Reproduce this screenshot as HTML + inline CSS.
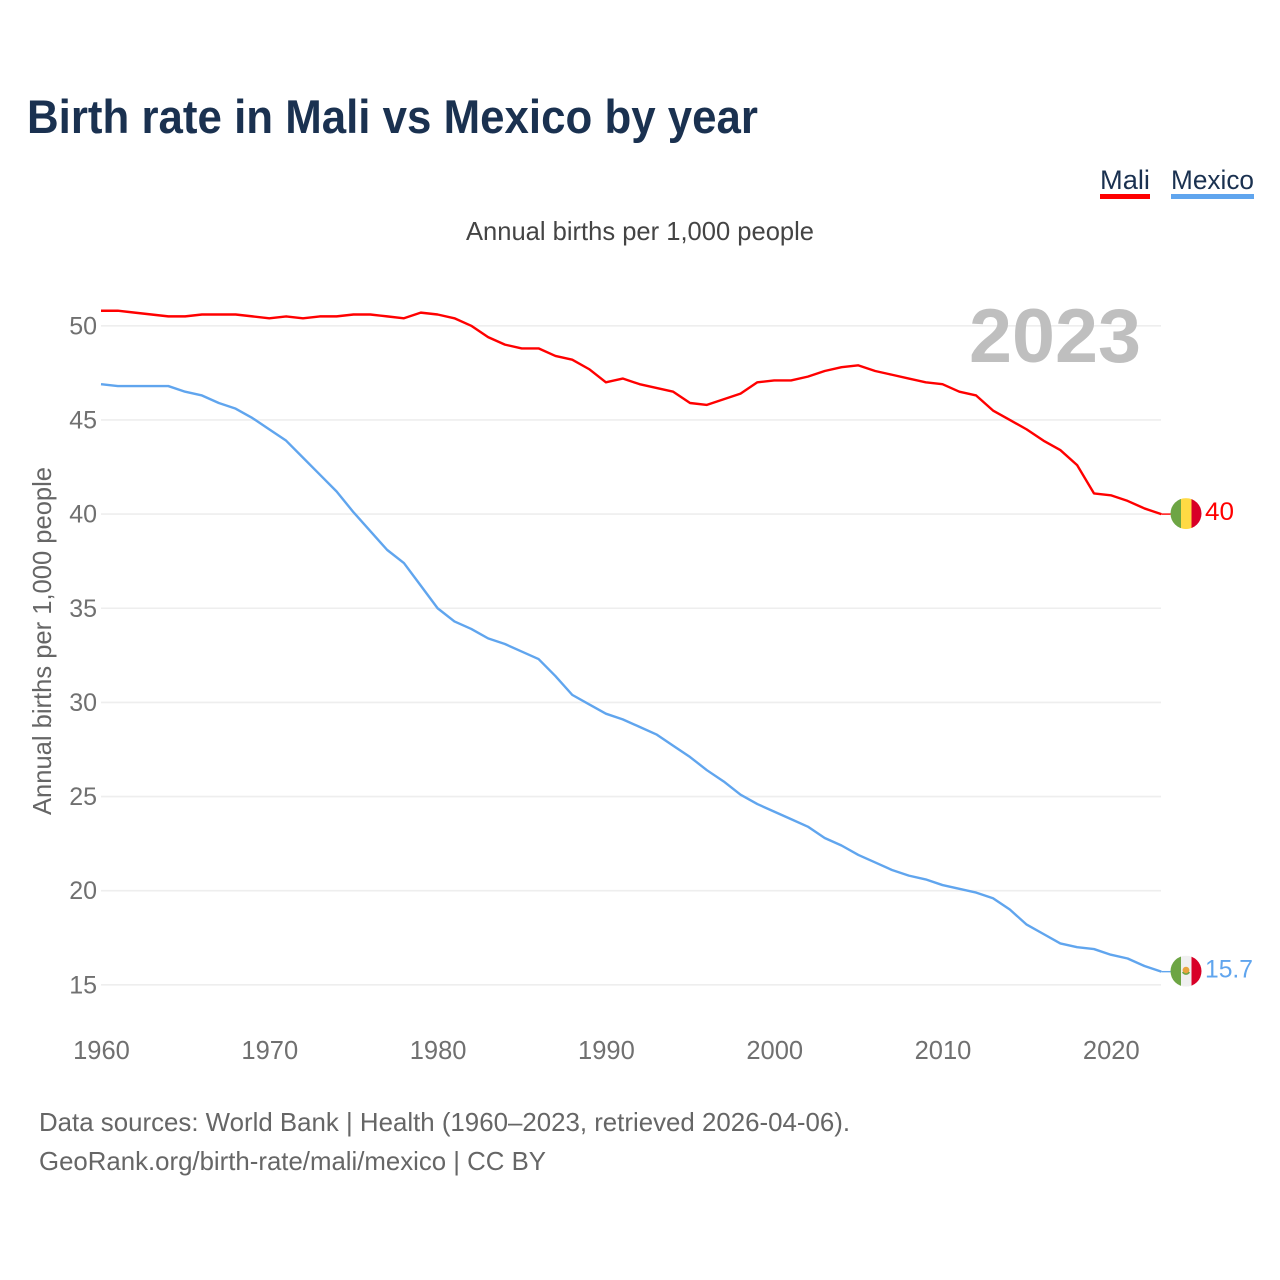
<!DOCTYPE html>
<html lang="en">
<head>
<meta charset="utf-8">
<title>Birth rate in Mali vs Mexico by year</title>
<style>
html,body{margin:0;padding:0;background:#fff;}
svg{display:block;font-family:"Liberation Sans",sans-serif;}
</style>
</head>
<body>
<svg id="chart" width="1280" height="1280" viewBox="0 0 1280 1280" xmlns="http://www.w3.org/2000/svg">
  <rect x="0" y="0" width="1280" height="1280" fill="#ffffff"/>
  <text x="27" y="133" font-size="47" font-weight="700" fill="#1a3150" textLength="731" lengthAdjust="spacingAndGlyphs">Birth rate in Mali vs Mexico by year</text>

  <g>
    <g>
      <text x="1100" y="189" font-size="27" fill="#1a3150" textLength="50" lengthAdjust="spacingAndGlyphs">Mali</text>
      <rect x="1100" y="194" width="50" height="5" fill="#ff0000"/>
    </g>
    <g>
      <text x="1171" y="189" font-size="27" fill="#1a3150" textLength="83" lengthAdjust="spacingAndGlyphs">Mexico</text>
      <rect x="1171" y="194" width="83" height="5" fill="#60a5ee"/>
    </g>
  </g>

  <text x="466" y="240" font-size="26" fill="#444444" textLength="348" lengthAdjust="spacingAndGlyphs">Annual births per 1,000 people</text>
  <text transform="translate(51,815) rotate(-90)" x="0" y="0" font-size="26" fill="#666666" textLength="348" lengthAdjust="spacingAndGlyphs">Annual births per 1,000 people</text>

  <g id="grid"></g>
  <g id="yticks"></g>
  <g id="xticks"></g>

  <text x="969" y="362" font-size="76" font-weight="700" fill="#bfbfbf" textLength="172" lengthAdjust="spacingAndGlyphs">2023</text>

  <path id="line-mexico" fill="none" stroke="#60a5ee" stroke-width="2.4" stroke-linejoin="round"/>
  <path id="line-mali" fill="none" stroke="#ff0000" stroke-width="2.4" stroke-linejoin="round"/>

  <g id="end-mali"></g>
  <g id="end-mexico"></g>

  <text x="39" y="1131" font-size="26" fill="#666666" textLength="811" lengthAdjust="spacingAndGlyphs">Data sources: World Bank | Health (1960–2023, retrieved 2026-04-06).</text>
  <text x="39" y="1170" font-size="26" fill="#666666" textLength="507" lengthAdjust="spacingAndGlyphs">GeoRank.org/birth-rate/mali/mexico | CC BY</text>
</svg>
<script>
const startYear = 1960;
const maliValues = [50.8,50.8,50.7,50.6,50.5,50.5,50.6,50.6,50.6,50.5,50.4,50.5,50.4,50.5,50.5,50.6,50.6,50.5,50.4,50.7,50.6,50.4,50.0,49.4,49.0,48.8,48.8,48.4,48.2,47.7,47.0,47.2,46.9,46.7,46.5,45.9,45.8,46.1,46.4,47.0,47.1,47.1,47.3,47.6,47.8,47.9,47.6,47.4,47.2,47.0,46.9,46.5,46.3,45.5,45.0,44.5,43.9,43.4,42.6,41.1,41.0,40.7,40.3,40.0];
const mexicoValues = [46.9,46.8,46.8,46.8,46.8,46.5,46.3,45.9,45.6,45.1,44.5,43.9,43.0,42.1,41.2,40.1,39.1,38.1,37.4,36.2,35.0,34.3,33.9,33.4,33.1,32.7,32.3,31.4,30.4,29.9,29.4,29.1,28.7,28.3,27.7,27.1,26.4,25.8,25.1,24.6,24.2,23.8,23.4,22.8,22.4,21.9,21.5,21.1,20.8,20.6,20.3,20.1,19.9,19.6,19.0,18.2,17.7,17.2,17.0,16.9,16.6,16.4,16.0,15.7];
const yTickValues = [15,20,25,30,35,40,45,50];
const xTickValues = [1960,1970,1980,1990,2000,2010,2020];

const NS = 'http://www.w3.org/2000/svg';
function xScale(year){ return 101 + (year - 1960) * 16.83; }
function yScale(v){ return 325.8 + (50 - v) * 18.83; }
function make(tag, attrs, parent, text){
  const el = document.createElementNS(NS, tag);
  for (const k in attrs) el.setAttribute(k, attrs[k]);
  if (text !== undefined) el.textContent = text;
  parent.appendChild(el);
  return el;
}
function linePath(values){
  return values.map((v,i)=>(i?'L':'M')+xScale(startYear+i).toFixed(2)+' '+yScale(v).toFixed(2)).join(' ');
}

const grid = document.getElementById('grid');
const yticks = document.getElementById('yticks');
const xticks = document.getElementById('xticks');
yTickValues.forEach(v=>{
  const line = make('line',{x1:101,x2:1161,y1:yScale(v),y2:yScale(v),stroke:'#eeeeee','stroke-width':1.6},grid);
  
  
  const label = make('text',{x:97,y:yScale(v)+8.5,'text-anchor':'end','font-size':25,fill:'#707070'},yticks,String(v));
  
  
});
xTickValues.forEach(y=>{
  const label = make('text',{x:xScale(y)+0.5,y:1059,'text-anchor':'middle','font-size':25.5,fill:'#707070'},xticks,String(y));
  
  
});

document.getElementById('line-mali').setAttribute('d', linePath(maliValues));
document.getElementById('line-mexico').setAttribute('d', linePath(mexicoValues));

function flag(group, value, colors, color, labelWidth, key){
  const lastYear = startYear + value.length - 1;
  const last = value[value.length-1];
  const x0 = xScale(lastYear), y0 = yScale(last);
  const cy = y0 - 0.5, cx = 1186, r = 15.5;
  const stub = make('line',{x1:x0,x2:cx-r,y1:y0,y2:y0,stroke:color,'stroke-width':1.4},group);
  
  
  const clipId = 'clip-' + key;
  const defs = make('defs',{},group);
  const clip = make('clipPath',{id:clipId},defs);
  make('circle',{cx:cx,cy:cy,r:r},clip);
  const icon = make('g',{'clip-path':'url(#'+clipId+')'},group);
  
  
  make('rect',{x:cx-r,y:cy-r,width:10.5,height:31,fill:colors[0]},icon);
  make('rect',{x:cx-r+10.5,y:cy-r,width:10.5,height:31,fill:colors[1]},icon);
  make('rect',{x:cx-r+21,y:cy-r,width:10,height:31,fill:colors[2]},icon);
  if (key === 'mexico'){
    make('circle',{cx:cx,cy:cy-1,r:3.4,fill:'#e8a33d'},icon);
    make('path',{d:'M'+(cx-3.5)+' '+(cy+1)+' Q'+cx+' '+(cy+5)+' '+(cx+3.5)+' '+(cy+1),stroke:'#6da544','stroke-width':1.5,fill:'none'},icon);
  }
  const label = make('text',{x:1205,y:y0+6,'font-size':25,fill:color,textLength:labelWidth,lengthAdjust:'spacingAndGlyphs'},group,String(last));
  
  
}
flag(document.getElementById('end-mali'), maliValues, ['#6da544','#ffda44','#d80027'], '#ff0000', 29, 'mali');
flag(document.getElementById('end-mexico'), mexicoValues, ['#6da544','#f0f0f0','#d80027'], '#60a5ee', 48, 'mexico');
</script>
</body>
</html>
